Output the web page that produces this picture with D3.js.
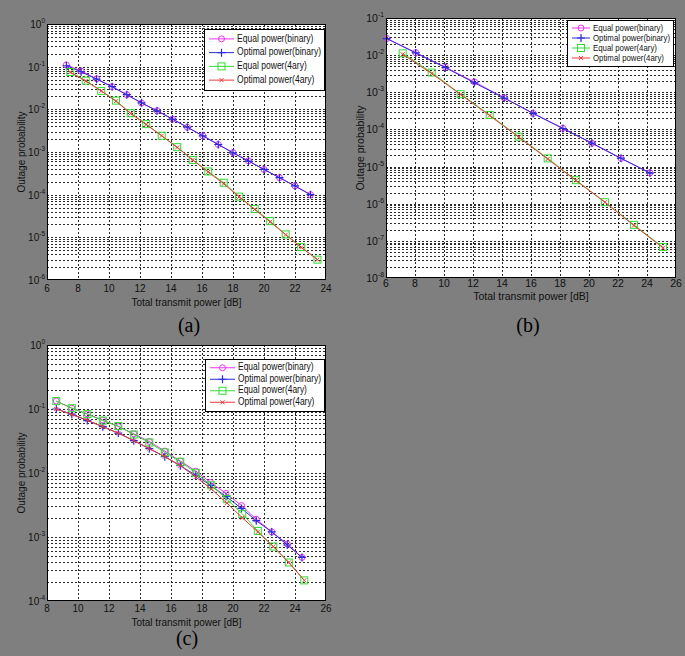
<!DOCTYPE html>
<html>
<head>
<meta charset="utf-8">
<script src="https://cdn.jsdelivr.net/npm/d3@7"></script>
<style>
body { margin: 0; background: #7f7f7f; }
svg { display: block; font-family: "Liberation Sans", Arial, sans-serif; }
</style>
</head>
<body>
<svg id="fig" width="685" height="656"></svg>
<script>
'use strict';

// legend names, same in all three panels
const seriesNames = ['Equal power(binary)', 'Optimal power(binary)', 'Equal power(4ary)', 'Optimal power(4ary)'];

// panel (a)
const aTicksX = [6, 8, 10, 12, 14, 16, 18, 20, 22, 24];
const aBinX = [7.25, 8.2, 9.2, 10.2, 11.15, 12.1, 13.1, 14.1, 15.05, 16.05, 17.05, 18.0, 19.0, 20.0, 21.0, 22.0, 23.0];
const aEqBin = [0.11, 0.079, 0.052, 0.034, 0.022, 0.014, 0.0093, 0.0059, 0.0038, 0.0024, 0.0015, 0.00097, 0.00062, 0.00039, 0.00025, 0.00016, 0.0001];
const aOptBin = [0.105, 0.076, 0.051, 0.034, 0.022, 0.0142, 0.0092, 0.0059, 0.0038, 0.0024, 0.0015, 0.00095, 0.00061, 0.00039, 0.00025, 0.00016, 0.0001];
const a4X = [7.5, 8.5, 9.5, 10.45, 11.4, 12.4, 13.4, 14.4, 15.4, 16.4, 17.4, 18.4, 19.4, 20.4, 21.4, 22.4, 23.45];
const aEq4 = [0.075, 0.047, 0.027, 0.016, 0.0081, 0.0045, 0.0024, 0.0013, 0.00065, 0.00035, 0.00019, 0.00009, 0.000046, 0.000024, 0.0000117, 0.0000059, 0.000003];
const aOpt4 = [0.074, 0.046, 0.027, 0.0155, 0.008, 0.0044, 0.0024, 0.00128, 0.00065, 0.00034, 0.00018, 0.000089, 0.000045, 0.000023, 0.0000115, 0.0000058, 0.000003];

// panel (b)
const bTicksX = [6, 8, 10, 12, 14, 16, 18, 20, 22, 24, 26];
const bBinX = [6.05, 8.05, 10.1, 12.1, 14.15, 16.15, 18.2, 20.2, 22.2, 24.2];
const bEqBin = [0.028, 0.0117, 0.0047, 0.0019, 0.00071, 0.00027, 0.000107, 0.000042, 0.0000166, 0.0000068];
const bOptBin = [0.028, 0.0115, 0.0046, 0.0018, 0.0007, 0.00027, 0.000106, 0.000043, 0.0000168, 0.0000067];
const b4X = [7.15, 9.15, 11.15, 13.15, 15.15, 17.15, 19.1, 21.1, 23.1, 25.1];
const bEq4 = [0.0112, 0.0034, 0.00089, 0.000245, 0.000064, 0.0000166, 0.0000043, 0.0000011, 0.00000027, 0.000000068];
const bOpt4 = [0.0105, 0.0032, 0.00087, 0.000235, 0.000062, 0.000016, 0.0000042, 0.0000011, 0.00000026, 0.000000065];

// panel (c)
const cTicksX = [8, 10, 12, 14, 16, 18, 20, 22, 24, 26];
const cBinX = [8.6, 9.6, 10.6, 11.6, 12.6, 13.6, 14.6, 15.6, 16.6, 17.6, 18.55, 19.55, 20.55, 21.5, 22.5, 23.5, 24.45];
const cEqBin = [0.133, 0.103, 0.084, 0.067, 0.053, 0.041, 0.031, 0.022, 0.0154, 0.0107, 0.0071, 0.0048, 0.0031, 0.0019, 0.0012, 0.00078, 0.00048];
const cOptBin = [0.1, 0.083, 0.066, 0.053, 0.042, 0.032, 0.024, 0.018, 0.013, 0.0092, 0.0064, 0.0043, 0.0028, 0.0018, 0.0012, 0.00075, 0.00048];
const c4X = [8.6, 9.6, 10.6, 11.6, 12.6, 13.6, 14.6, 15.6, 16.6, 17.6, 18.6, 19.6, 20.6, 21.6, 22.6, 23.6, 24.6];
const cEq4 = [0.133, 0.103, 0.083, 0.066, 0.054, 0.040, 0.030, 0.021, 0.015, 0.0101, 0.0064, 0.0039, 0.0023, 0.00124, 0.00071, 0.0004, 0.00021];
const cOpt4 = [0.1, 0.082, 0.067, 0.053, 0.042, 0.032, 0.024, 0.018, 0.013, 0.0087, 0.0056, 0.0034, 0.002, 0.0012, 0.00071, 0.0004, 0.00021];

const colors = ['#ee33ee', '#2a2add', '#33dd33', '#ee3a3a'];
const markers = ['circle', 'plus', 'square', 'cross'];

const zip = (xs, ys) => xs.map((x, i) => [x, ys[i]]);

const panels = [
    {
        name: '(a)', left: 47, top: 24, right: 326, bottom: 280,
        xDomain: [6, 24], xTicks: aTicksX, yDomain: [1e-6, 1],
        series: [zip(aBinX, aEqBin), zip(aBinX, aOptBin), zip(a4X, aEq4), zip(a4X, aOpt4)],
        legend: { x: 204, y: 29, w: 120, h: 61, line: 25, fs: 10 },
        tickY: 289, titleY: 303, titleX: 22, fs: 10, labelX: 189, labelY: 332
    },
    {
        name: '(b)', left: 386, top: 18, right: 676, bottom: 278,
        xDomain: [6, 26], xTicks: bTicksX, yDomain: [1e-8, 1e-1],
        series: [zip(bBinX, bEqBin), zip(bBinX, bOptBin), zip(b4X, bEq4), zip(b4X, bOpt4)],
        legend: { x: 567, y: 20, w: 106, h: 46, line: 18, fs: 9.5 },
        tickY: 284, titleY: 297, titleX: 361, fs: 10.5, labelX: 528, labelY: 332
    },
    {
        name: '(c)', left: 47, top: 345, right: 326, bottom: 601,
        xDomain: [8, 26], xTicks: cTicksX, yDomain: [1e-4, 1],
        series: [zip(cBinX, cEqBin), zip(cBinX, cOptBin), zip(c4X, cEq4), zip(c4X, cOpt4)],
        legend: { x: 205, y: 359, w: 119, h: 52, line: 25, fs: 10 },
        tickY: 609, titleY: 623, titleX: 22, fs: 10, labelX: 187, labelY: 645
    }
];

const svg = d3.select('#fig');

function drawMarker(g, type, px, py, color) {
    if (type === 'circle') {
        g.append('circle').attr('cx', px).attr('cy', py).attr('r', 3)
            .attr('fill', 'none').attr('stroke', color).attr('stroke-width', 1);
    } else if (type === 'square') {
        g.append('rect').attr('x', px - 3.5).attr('y', py - 3.5).attr('width', 7).attr('height', 7)
            .attr('fill', 'none').attr('stroke', color).attr('stroke-width', 1);
    } else if (type === 'plus') {
        g.append('path').attr('d', `M${px - 4},${py}H${px + 4}M${px},${py - 4}V${py + 4}`)
            .attr('stroke', color).attr('stroke-width', 1.2);
    } else {
        g.append('path').attr('d', `M${px - 2},${py - 2}L${px + 2},${py + 2}M${px - 2},${py + 2}L${px + 2},${py - 2}`)
            .attr('stroke', color).attr('stroke-width', 1);
    }
}

panels.forEach((p, pi) => {
    const x = d3.scaleLinear().domain(p.xDomain).range([p.left, p.right]);
    const y = d3.scaleLog().domain(p.yDomain).range([p.bottom, p.top]);
    const g = svg.append('g');

    g.append('rect')
        .attr('x', p.left).attr('y', p.top)
        .attr('width', p.right - p.left).attr('height', p.bottom - p.top)
        .attr('fill', '#fff');

    // grid: every 1..9 in each decade, plus the x ticks
    const yAll = y.ticks().filter(v => v > p.yDomain[0] * 1.0001 && v < p.yDomain[1] * 0.9999);
    g.selectAll('.gy').data(yAll).enter().append('line')
        .attr('x1', p.left).attr('x2', p.right)
        .attr('y1', d => Math.round(y(d)) + 0.5).attr('y2', d => Math.round(y(d)) + 0.5)
        .attr('stroke', '#111').attr('stroke-width', 0.9).attr('stroke-dasharray', '2,2');
    g.selectAll('.gx').data(p.xTicks.slice(1, -1)).enter().append('line')
        .attr('y1', p.top).attr('y2', p.bottom)
        .attr('x1', d => Math.round(x(d)) + 0.5).attr('x2', d => Math.round(x(d)) + 0.5)
        .attr('stroke', '#111').attr('stroke-width', 0.9).attr('stroke-dasharray', '2,2');

    // series
    const clipId = 'clip' + pi;
    g.append('clipPath').attr('id', clipId).append('rect')
        .attr('x', p.left - 5).attr('y', p.top).attr('width', p.right - p.left + 10).attr('height', p.bottom - p.top + 5);
    const plot = g.append('g').attr('clip-path', `url(#${clipId})`);
    const line = d3.line().x(d => x(d[0])).y(d => y(d[1]));
    p.series.forEach((s, si) => {
        plot.append('path').attr('d', line(s))
            .attr('fill', 'none').attr('stroke', colors[si]).attr('stroke-width', 1);
        s.forEach(d => drawMarker(plot, markers[si], x(d[0]), y(d[1]), colors[si]));
    });

    // frame and labels
    g.append('rect')
        .attr('x', p.left + 0.5).attr('y', p.top + 0.5)
        .attr('width', p.right - p.left - 1).attr('height', p.bottom - p.top - 1)
        .attr('fill', 'none').attr('stroke', '#000').attr('stroke-width', 1);
    const decades = d3.range(Math.log10(p.yDomain[0]), Math.log10(p.yDomain[1]) + 1);

    g.selectAll('.xt').data(p.xTicks).enter().append('text')
        .attr('x', d => x(d)).attr('y', p.tickY)
        .attr('text-anchor', 'middle').attr('dominant-baseline', 'middle')
        .attr('font-size', p.fs).attr('fill', '#111').text(d => d);

    decades.forEach(e => {
        const t = g.append('text')
            .attr('x', p.left - 2).attr('y', y(Math.pow(10, e)) + 4)
            .attr('text-anchor', 'end').attr('font-size', p.fs).attr('fill', '#111');
        t.append('tspan').text('10');
        t.append('tspan').attr('dy', -5).attr('font-size', p.fs * 0.65).text(e);
    });

    g.append('text')
        .attr('x', (p.left + p.right) / 2).attr('y', p.titleY)
        .attr('text-anchor', 'middle').attr('dominant-baseline', 'middle')
        .attr('font-size', p.fs).attr('fill', '#111').text('Total transmit power [dB]');
    g.append('text')
        .attr('transform', `translate(${p.titleX},${(p.top + p.bottom) / 2}) rotate(-90)`)
        .attr('text-anchor', 'middle').attr('dominant-baseline', 'middle')
        .attr('font-size', p.fs).attr('fill', '#111').text('Outage probability');

    // legend
    const L = p.legend;
    g.append('rect').attr('x', L.x + 0.5).attr('y', L.y + 0.5).attr('width', L.w).attr('height', L.h)
        .attr('fill', '#fff').attr('stroke', '#000').attr('stroke-width', 1);
    const rowH = (L.h - 6) / seriesNames.length;
    const lx = L.x + 5;
    const tx = lx + L.line + 3;
    const texts = seriesNames.map((nm, si) => {
        const ry = L.y + 3 + rowH * (si + 0.5);
        g.append('line').attr('x1', lx).attr('x2', lx + L.line).attr('y1', ry).attr('y2', ry)
            .attr('stroke', colors[si]).attr('stroke-width', 1);
        drawMarker(g, markers[si], lx + L.line / 2, ry, colors[si]);
        return g.append('text').attr('x', tx).attr('y', ry)
            .attr('dominant-baseline', 'middle').attr('font-size', L.fs).attr('fill', '#111').text(nm);
    });
    // the original font is narrower, squeeze all entries by the same factor
    const widths = texts.map(t => t.node().getComputedTextLength());
    const room = L.x + L.w - 3 - tx;
    const k = Math.min(1, room / d3.max(widths));
    texts.forEach((t, i) => t.attr('textLength', widths[i] * k).attr('lengthAdjust', 'spacingAndGlyphs'));

    // panel label
    svg.append('text')
        .attr('x', p.labelX).attr('y', p.labelY)
        .attr('text-anchor', 'middle')
        .style('font-family', '"Liberation Serif", "Times New Roman", serif')
        .attr('font-size', 20).attr('fill', '#000').text(p.name);
});
</script>
</body>
</html>
